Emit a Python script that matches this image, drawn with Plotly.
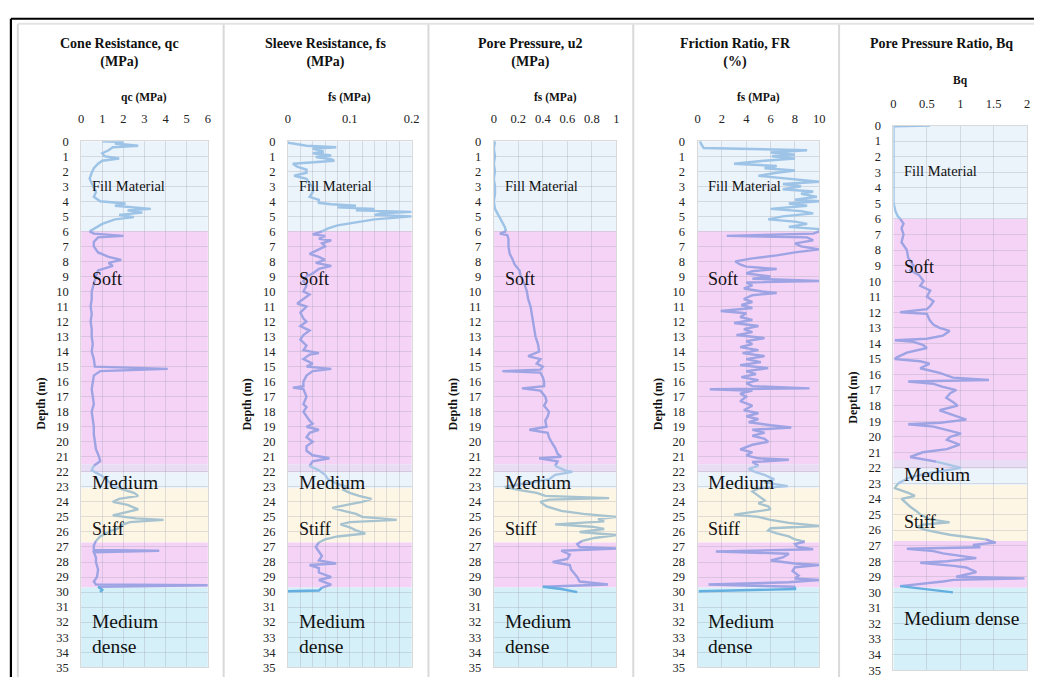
import plotly.graph_objects as go

W, H = 1042, 684

# ---------------- data (depth in m) ----------------
qc_depth = [0.0, 0.05, 0.15, 0.3, 0.4, 0.6, 0.8, 1.0, 1.15, 1.3, 1.5, 1.8, 2.1, 2.5, 2.8, 3.1, 3.4, 3.7, 4.0,
            4.15, 4.3, 4.5, 4.6, 4.75, 4.9, 5.05, 5.2, 5.5, 5.8, 6.0, 6.15, 6.3, 6.4, 6.7, 7.0, 7.4, 7.7, 7.9,
            8.1, 8.3, 8.6, 9.0, 9.5, 10.0, 10.5, 11.0, 11.5, 12.0, 12.5, 13.0, 13.5, 14.0, 14.5, 15.0, 15.15,
            15.3, 15.6, 16.0, 16.5, 17.0, 17.5, 18.0, 18.5, 19.0, 19.5, 20.0, 20.5, 21.0, 21.3, 21.6, 21.9,
            22.2, 22.5, 22.8, 23.1, 23.4, 23.6, 23.8, 24.0, 24.2, 24.5, 24.7, 24.9, 25.1, 25.2, 25.35, 25.5,
            25.8, 26.0, 26.3, 26.6, 26.9, 27.2, 27.25, 27.35, 27.7, 28.0, 28.5, 29.0, 29.3, 29.5, 29.55, 29.65,
            29.85, 30.0]
qc_val = [1.0, 2.0, 1.6, 2.7, 1.5, 1.3, 1.0, 1.1, 1.8, 1.0, 0.8, 0.6, 0.5, 0.4, 0.5, 0.6, 0.7, 0.6, 0.9,
          2.1, 1.6, 3.3, 2.2, 2.9, 1.8, 2.5, 1.6, 1.0, 0.6, 0.4, 0.6, 2.0, 0.8, 0.6, 0.6, 0.8, 1.3, 1.9,
          1.3, 1.5, 0.8, 0.7, 0.6, 0.5, 0.5, 0.45, 0.5, 0.45, 0.5, 0.5, 0.55, 0.5, 0.6, 0.65, 4.1,
          0.9, 0.6, 0.55, 0.5, 0.55, 0.6, 0.5, 0.55, 0.6, 0.6, 0.65, 0.7, 0.85, 0.9, 0.6, 0.5,
          0.9, 1.2, 1.4, 1.8, 2.5, 2.7, 1.8, 1.5, 2.2, 2.7, 2.1, 1.5, 2.6, 3.9, 2.3, 2.0,
          1.7, 1.3, 0.9, 0.7, 0.6, 0.6, 3.7, 0.6, 0.7, 0.7, 0.8, 0.75, 0.6, 0.7, 6.0, 0.8,
          1.0, 0.9]

fs_depth = [0.0, 0.1, 0.3, 0.4, 0.5, 0.7, 0.8, 0.95, 1.05, 1.2, 1.3, 1.4, 1.5, 1.7, 1.9, 2.1, 2.3, 2.5, 2.8,
            3.1, 3.4, 3.7, 3.9, 4.1, 4.2, 4.3, 4.4, 4.5, 4.6, 4.7, 4.8, 4.9, 5.0, 5.1, 5.2, 5.4, 5.6, 5.8,
            6.0, 6.2, 6.3, 6.5, 6.6, 6.8, 7.0, 7.3, 7.5, 7.7, 7.9, 8.1, 8.3, 8.5, 8.8, 9.0, 9.3, 9.6, 10.0,
            10.2, 10.5, 10.8, 11.0, 11.4, 11.8, 12.0, 12.3, 12.6, 12.9, 13.2, 13.6, 13.9, 14.1, 14.2, 14.5,
            14.8, 15.0, 15.15, 15.3, 15.6, 16.0, 16.3, 16.4, 16.5, 17.0, 17.5, 17.7, 18.0, 18.3, 18.6, 18.8,
            19.0, 19.2, 19.4, 19.7, 20.0, 20.3, 20.6, 20.9, 21.1, 21.3, 21.6, 21.9, 22.2, 22.5, 22.8, 23.0,
            23.2, 23.4, 23.6, 23.8, 24.0, 24.2, 24.4, 24.6, 24.8, 25.0, 25.2, 25.35, 25.5, 25.7, 25.9, 26.1,
            26.3, 26.5, 26.7, 27.0, 27.3, 27.6, 27.9, 28.1, 28.2, 28.4, 28.7, 29.0, 29.2, 29.5, 29.7, 29.9,
            29.95]
fs_val = [0.0, 0.0, 0.03, 0.078, 0.04, 0.058, 0.04, 0.07, 0.045, 0.07, 0.075, 0.04, 0.008, 0.015, 0.03, 0.03,
          0.01, 0.03, 0.035, 0.04, 0.04, 0.035, 0.05, 0.05, 0.07, 0.11, 0.08, 0.14, 0.11, 0.2, 0.15, 0.14,
          0.2, 0.16, 0.14, 0.11, 0.08, 0.065, 0.055, 0.04, 0.06, 0.05, 0.07, 0.055, 0.06, 0.045, 0.035,
          0.05, 0.06, 0.045, 0.07, 0.05, 0.04, 0.03, 0.025, 0.03, 0.025, 0.035, 0.025, 0.015, 0.03, 0.02,
          0.025, 0.03, 0.02, 0.035, 0.025, 0.02, 0.03, 0.025, 0.05, 0.035, 0.025, 0.04, 0.03, 0.07, 0.04,
          0.03, 0.025, 0.025, 0.008, 0.025, 0.03, 0.025, 0.03, 0.025, 0.03, 0.035, 0.04, 0.03, 0.05, 0.035,
          0.03, 0.04, 0.03, 0.03, 0.04, 0.067, 0.04, 0.035, 0.05, 0.06, 0.065, 0.08, 0.095, 0.09, 0.1,
          0.115, 0.135, 0.12, 0.095, 0.072, 0.09, 0.11, 0.12, 0.176, 0.1, 0.085, 0.1, 0.11, 0.125, 0.08,
          0.06, 0.05, 0.045, 0.05, 0.055, 0.05, 0.078, 0.035, 0.05, 0.05, 0.07, 0.05, 0.07, 0.055, 0.05,
          0.0]

u2_depth = [0.0, 0.5, 1.0, 1.5, 2.0, 2.5, 3.0, 3.5, 4.0, 4.5, 4.8, 5.1, 5.4, 5.7, 6.0, 6.15, 6.25, 6.5, 7.0,
            7.5, 7.8, 8.2, 8.6, 9.0, 9.5, 10.0, 10.5, 11.0, 11.5, 12.0, 12.5, 13.0, 13.5, 14.0, 14.3, 14.5,
            14.8, 15.0, 15.2, 15.3, 15.4, 15.7, 16.0, 16.3, 16.45, 16.6, 17.0, 17.3, 17.6, 18.0, 18.3, 18.6,
            19.0, 19.2, 19.4, 19.7, 20.0, 20.4, 20.8, 21.0, 21.1, 21.3, 21.6, 21.9, 22.0, 22.2, 22.5, 22.8,
            23.0, 23.2, 23.4, 23.6, 23.75, 23.85, 24.0, 24.3, 24.6, 24.8, 25.0, 25.15, 25.3, 25.5, 25.65,
            25.8, 26.0, 26.2, 26.4, 26.6, 26.8, 27.0, 27.1, 27.25, 27.5, 27.8, 28.0, 28.2, 28.5, 28.8, 29.0,
            29.3, 29.5, 29.65, 29.8, 30.0]
u2_val = [0.01, 0.0, 0.01, 0.0, 0.01, 0.0, 0.01, 0.01, 0.0, 0.01, 0.03, 0.05, 0.07, 0.09, 0.1, 0.05, 0.11,
          0.12, 0.12, 0.13, 0.15, 0.17, 0.21, 0.22, 0.25, 0.27, 0.28, 0.3, 0.31, 0.32, 0.33, 0.34, 0.36,
          0.37, 0.28, 0.38, 0.35, 0.4, 0.38, 0.07, 0.38, 0.4, 0.41, 0.41, 0.23, 0.38, 0.42, 0.43, 0.41,
          0.45, 0.44, 0.42, 0.43, 0.29, 0.44, 0.45, 0.47, 0.5, 0.52, 0.55, 0.37, 0.52, 0.5, 0.58, 0.64,
          0.5, 0.45, 0.25, 0.09, 0.2, 0.35, 0.42, 0.94, 0.45, 0.38, 0.43, 0.55, 0.73, 1.0, 0.85, 0.9, 0.5,
          0.8, 0.9, 0.7, 1.0, 0.82, 0.72, 0.68, 0.7, 1.0, 0.55, 0.62, 0.6, 0.48, 0.62, 0.63, 0.66, 0.68,
          0.7, 0.93, 0.4, 0.55, 0.68]

fr_depth = [0.0, 0.2, 0.45, 0.6, 0.75, 0.9, 1.0, 1.15, 1.3, 1.5, 1.65, 1.8, 1.95, 2.1, 2.3, 2.5, 2.7, 2.85,
            3.0, 3.2, 3.35, 3.5, 3.7, 3.9, 4.0, 4.15, 4.3, 4.5, 4.65, 4.8, 5.0, 5.2, 5.35, 5.5, 5.7, 5.85,
            6.0, 6.15, 6.3, 6.4, 6.6, 6.8, 7.0, 7.2, 7.4, 7.6, 7.8, 8.0, 8.2, 8.35, 8.5, 8.65, 8.8, 9.0,
            9.15, 9.3, 9.4, 9.6, 9.8, 10.0, 10.1, 10.25, 10.5, 10.7, 10.9, 11.1, 11.3, 11.45, 11.7, 11.9,
            12.1, 12.3, 12.5, 12.7, 12.9, 13.1, 13.3, 13.5, 13.7, 13.9, 14.1, 14.3, 14.5, 14.7, 14.9, 15.1,
            15.3, 15.5, 15.7, 15.9, 16.1, 16.3, 16.45, 16.5, 16.6, 16.8, 17.0, 17.3, 17.6, 17.9, 18.1, 18.3,
            18.5, 18.7, 18.9, 19.05, 19.2, 19.4, 19.6, 19.8, 20.0, 20.2, 20.5, 20.7, 20.9, 21.1, 21.2, 21.35,
            21.6, 21.8, 22.0, 22.2, 22.5, 22.7, 22.95, 23.1, 23.3, 23.6, 23.9, 24.1, 24.3, 24.5, 24.7, 24.85,
            25.0, 25.2, 25.4, 25.6, 25.75, 25.9, 26.1, 26.3, 26.5, 26.65, 26.8, 27.0, 27.15, 27.3, 27.45,
            27.7, 27.9, 28.1, 28.2, 28.35, 28.6, 28.9, 29.1, 29.2, 29.35, 29.5, 29.65, 29.8, 29.95]
fr_val = [0.2, 0.3, 0.5, 9.0, 6.0, 8.0, 6.1, 8.0, 5.5, 3.0, 6.5, 5.5, 8.0, 6.5, 5.0, 7.5, 10.0, 7.0, 8.5,
          7.0, 9.5, 8.5, 9.8, 8.0, 10.0, 7.5, 9.0, 6.0, 8.5, 9.5, 7.0, 5.8, 8.0, 9.0, 7.5, 10.0, 10.0, 9.5,
          2.4, 9.0, 9.5, 8.0, 8.5, 10.0, 8.0, 6.5, 4.5, 3.1, 3.5, 4.0, 6.5, 4.5, 4.0, 6.0, 4.5, 10.0, 4.0,
          4.5, 3.8, 5.3, 6.5, 4.5, 3.8, 4.5, 3.6, 4.5, 1.9, 4.0, 3.5, 4.5, 3.0, 5.0, 3.8, 4.5, 3.2, 5.5,
          4.0, 4.5, 3.5, 5.0, 3.7, 5.5, 4.0, 5.2, 3.5, 5.8, 4.0, 4.8, 3.6, 5.0, 4.0, 4.5, 9.2, 1.0, 4.5,
          3.5, 4.0, 3.5, 4.5, 3.8, 5.0, 4.0, 5.0, 4.2, 6.0, 7.7, 4.5, 5.5, 4.5, 5.5, 5.8, 4.5, 3.5, 4.5,
          4.0, 5.0, 7.5, 4.5, 5.0, 4.2, 4.7, 5.5, 6.3, 5.5, 7.4, 5.0, 4.5, 5.0, 5.5, 5.0, 5.8, 6.0, 4.5,
          3.0, 5.0, 6.0, 7.5, 10.0, 6.0, 5.8, 6.5, 7.5, 8.0, 8.8, 8.0, 8.2, 9.5, 1.5, 7.5, 7.0, 6.0, 8.0,
          10.0, 8.0, 7.8, 8.3, 8.0, 10.0, 7.5, 0.9, 8.0, 8.0, 0.1]

bq_depth = [0.0, 0.05, 1.0, 2.0, 3.0, 4.0, 5.0, 5.5, 5.8, 6.0, 6.3, 6.6, 7.0, 7.5, 8.0, 8.5, 9.0, 9.3, 9.6,
            10.0, 10.3, 10.6, 11.0, 11.3, 11.6, 11.8, 12.0, 12.1, 12.5, 12.8, 13.0, 13.2, 13.5, 13.7, 13.8,
            13.9, 14.1, 14.3, 14.6, 14.9, 15.0, 15.15, 15.3, 15.6, 15.9, 16.2, 16.35, 16.45, 16.6, 16.8, 17.0,
            17.2, 17.5, 17.8, 18.0, 18.3, 18.6, 18.9, 19.1, 19.2, 19.35, 19.5, 19.8, 20.0, 20.2, 20.5, 20.8,
            21.0, 21.3, 21.6, 22.0, 22.3, 22.6, 23.0, 23.3, 23.6, 23.8, 24.0, 24.3, 24.5, 24.8, 25.0, 25.3,
            25.5, 25.65, 25.8, 26.0, 26.3, 26.6, 26.8, 26.95, 27.1, 27.2, 27.35, 27.5, 27.8, 28.0, 28.1, 28.3,
            28.4, 28.7, 29.0, 29.1, 29.2, 29.3, 29.6, 29.8, 30.0]
bq_val = [0.55, 0.0, 0.0, 0.0, 0.0, 0.0, 0.0, 0.03, 0.06, 0.1, 0.15, 0.12, 0.15, 0.12, 0.2, 0.22, 0.3, 0.25,
          0.38, 0.45, 0.4, 0.55, 0.5, 0.6, 0.55, 0.5, 0.1, 0.5, 0.54, 0.6, 0.69, 0.84, 0.74, 0.5, 0.02, 0.3,
          0.44, 0.5, 0.2, 0.05, 0.02, 0.4, 0.54, 0.4, 0.69, 0.89, 1.43, 0.22, 0.6, 0.74, 0.94, 0.85, 0.79,
          0.9, 0.96, 0.69, 0.9, 1.09, 0.7, 0.22, 0.6, 0.74, 1.01, 0.85, 0.8, 0.99, 0.8, 0.44, 0.25, 0.64,
          1.01, 0.59, 0.25, 0.07, 0.02, 0.22, 0.32, 0.12, 0.2, 0.25, 0.35, 0.4, 0.54, 0.84, 0.45, 0.35, 0.49,
          0.84, 1.38, 1.53, 1.19, 1.3, 0.2, 0.6, 0.74, 1.24, 0.8, 0.4, 0.9, 1.09, 1.24, 0.94, 1.96, 0.9, 0.74,
          0.1, 0.54, 0.89]

# soil layers
layer_labels = ["Fill Material", "Soft", "", "Medium", "Stiff", "", "Medium<br>dense"]
layer_top = [0, 6, 21.5, 22.05, 23.1, 26.7, 29.7]
layer_bottom = [6, 21.5, 22.05, 23.1, 26.7, 29.7, 35]

# ---------------- styling ----------------
layer_fill = ['#ebf3fb', '#f5d3f7', '#e9ddf5', '#ebf3fb', '#fdf6e5', '#f5d3f7', '#d5f0f8']
layer_line = ['#9dc3e6', '#9ea3e3', '#a9c6e6', '#a9c6e6', '#a7c3cf', '#9ea3e3', '#64aee0']
label_pos = [3.0, 9.2, None, 22.7, 25.8, None, 32.8]
label_size = [14.5, 18, 0, 19.5, 18, 0, 19.5]

FONT = "Liberation Serif"


def fx(x):
    return min(max(x / W, 0), 1)


def fy(y):
    return min(max(1 - y / H, 0), 1)


panels = [
    dict(title="Cone Resistance, qc<br>(MPa)", sub="qc (MPa)", depth=qc_depth, val=qc_val,
         rng=[0, 6], dtick=1, minor=None, px=(79, 207), py=(137, 674), tcx=118, tcy=47, suby=92, depx=39),
    dict(title="Sleeve Resistance, fs<br>(MPa)", sub="fs (MPa)", depth=fs_depth, val=fs_val,
         rng=[0, 0.2], dtick=0.1, minor=0.02, px=(288, 413), py=(137, 674), tcx=326, tcy=47, suby=92, depx=247),
    dict(title="Pore Pressure, u2<br>(MPa)", sub="fs (MPa)", depth=u2_depth, val=u2_val,
         rng=[0, 1], dtick=0.2, minor=None, px=(496, 620), py=(137, 674), tcx=533, tcy=47, suby=92, depx=455),
    dict(title="Friction Ratio, FR<br>(%)", sub="fs (MPa)", depth=fr_depth, val=fr_val,
         rng=[0, 10], dtick=2, minor=None, px=(702, 825), py=(137, 674), tcx=740, tcy=47, suby=92, depx=662),
    dict(title="Pore Pressure Ratio, Bq", sub="Bq", depth=bq_depth, val=bq_val,
         rng=[0, 2], dtick=0.5, minor=None, px=(900, 1035), py=(121, 677), tcx=949, tcy=37, suby=75, depx=859),
]

fig = go.Figure()
shapes = []
annotations = []


def layer_of(d):
    for k in range(len(layer_top)):
        if layer_top[k] <= d < layer_bottom[k]:
            return k
    return len(layer_top) - 1


GRID = 'rgba(150,150,165,0.28)'

for i, p in enumerate(panels):
    n = i + 1
    xa = 'x' if n == 1 else f'x{n}'
    ya = 'y' if n == 1 else f'y{n}'
    xkey = 'xaxis' if n == 1 else f'xaxis{n}'
    ykey = 'yaxis' if n == 1 else f'yaxis{n}'
    x0, x1 = p['px']
    y0, y1 = p['py']
    xdom = [fx(x0), fx(x1)]
    ydom = [fy(y1), fy(y0)]

    xaxis = dict(domain=xdom, range=p['rng'], side='top', dtick=p['dtick'], tick0=0, anchor=ya,
                 showgrid=True, gridcolor=GRID, gridwidth=1, zeroline=False,
                 showline=True, linecolor='#d9d9d9', linewidth=1, mirror=True, ticks='',
                 ticklabelstandoff=12, tickfont=dict(family=FONT, size=12.5, color='#222'),
                 fixedrange=True)
    if p['minor']:
        xaxis['minor'] = dict(dtick=p['minor'], showgrid=True, gridcolor=GRID, gridwidth=1)
    yaxis = dict(domain=ydom, range=[35, 0], dtick=1, tick0=0, anchor=xa,
                 showgrid=True, gridcolor=GRID, gridwidth=1, zeroline=False,
                 showline=True, linecolor='#d9d9d9', linewidth=1, mirror=True, ticks='',
                 ticklabelstandoff=9, tickfont=dict(family=FONT, size=12.5, color='#222'),
                 fixedrange=True)
    fig.update_layout(**{xkey: xaxis, ykey: yaxis})

    # layer bands
    for k in range(len(layer_top)):
        shapes.append(dict(type='rect', xref=f'{xa} domain', yref=ya, x0=0, x1=1,
                           y0=layer_top[k], y1=layer_bottom[k], fillcolor=layer_fill[k],
                           line=dict(width=0), layer='below'))
    # layer labels
    for k in range(len(layer_top)):
        if label_pos[k] is None:
            continue
        txt = layer_labels[k]
        ypos = label_pos[k]
        if n == 5 and k == 6:
            txt = "Medium dense"
            ypos = 31.7
        if n == 5:
            ypos = {0: 2.9, 1: 9.1, 3: 22.45, 4: 25.5}.get(k, ypos)
        annotations.append(dict(text=txt, xref=f'{xa} domain', yref=ya, x=9 / (x1 - x0), y=ypos,
                                xanchor='left', yanchor='middle', showarrow=False, align='left',
                                font=dict(family=FONT, size=label_size[k], color='#111')))

    # profile line, coloured per layer
    d = p['depth']
    v = p['val']
    runs = []
    cur = None
    for j in range(len(d) - 1):
        k = layer_of((d[j] + d[j + 1]) / 2)
        if cur is None or cur[0] != k:
            cur = [k, [d[j]], [v[j]]]
            runs.append(cur)
        cur[1].append(d[j + 1])
        cur[2].append(v[j + 1])
    for k, dd, vv in runs:
        fig.add_trace(go.Scatter(x=vv, y=dd, mode='lines', xaxis=xa, yaxis=ya,
                                 line=dict(color=layer_line[k], width=2.4), showlegend=False,
                                 hoverinfo='skip'))

    # titles
    annotations.append(dict(text=f"<b>{p['title']}</b>", xref='paper', yref='paper',
                            x=fx(p['tcx']), y=fy(p['tcy']), xanchor='center', yanchor='middle',
                            showarrow=False, font=dict(family=FONT, size=14, color='#111')))
    annotations.append(dict(text=f"<b>{p['sub']}</b>", xref='paper', yref='paper',
                            x=fx((x0 + x1) / 2), y=fy(p['suby']), xanchor='center', yanchor='middle',
                            showarrow=False, font=dict(family=FONT, size=11.5, color='#111')))
    annotations.append(dict(text="<b>Depth (m)</b>", xref='paper', yref='paper', textangle=-90,
                            x=fx(p['depx']), y=fy((y0 + y1) / 2), xanchor='center', yanchor='middle',
                            showarrow=False, font=dict(family=FONT, size=12, color='#111')))

# chart frames
for xs in [15, 223, 430, 637, 845]:
    shapes.append(dict(type='line', xref='paper', yref='paper', x0=fx(xs), x1=fx(xs),
                       y0=0, y1=fy(17), line=dict(color='#d9d9d9', width=2), layer='above'))
shapes.append(dict(type='line', xref='paper', yref='paper', x0=fx(15), x1=1,
                   y0=fy(17), y1=fy(17), line=dict(color='#e3e3e3', width=2), layer='above'))
shapes.append(dict(type='line', xref='paper', yref='paper', x0=fx(8), x1=1,
                   y0=fy(12), y1=fy(12), line=dict(color='#000', width=2.2), layer='above'))
shapes.append(dict(type='line', xref='paper', yref='paper', x0=fx(8), x1=fx(8),
                   y0=0, y1=fy(12), line=dict(color='#000', width=2.2), layer='above'))

fig.update_layout(width=W, height=H, margin=dict(l=0, r=0, t=0, b=0),
                  paper_bgcolor='white', plot_bgcolor='white', shapes=shapes, annotations=annotations,
                  showlegend=False)

fig.write_html("out.html", config={'displayModeBar': False},
               post_script="document.body.style.margin='0';document.body.style.overflow='hidden';")
